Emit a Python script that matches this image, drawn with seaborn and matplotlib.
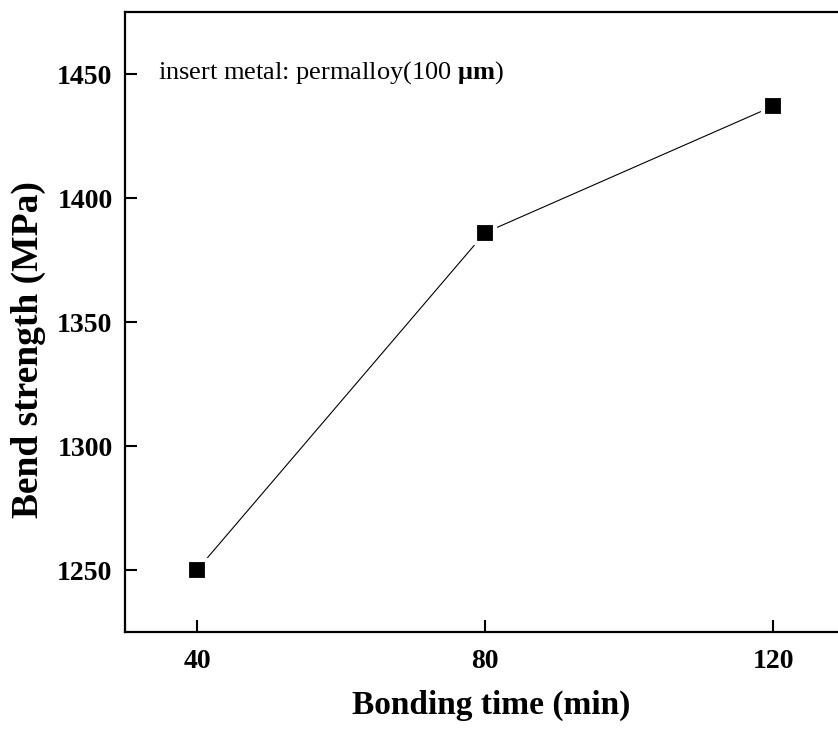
import matplotlib
matplotlib.use("Agg")
import matplotlib.pyplot as plt
import seaborn as sns
import pandas as pd

# Bend strength of joints vs bonding time
bonding_time = [40, 80, 120]
bend_strength = [1250, 1386, 1437]
x_ticks = [40, 80, 120]
y_ticks = [1250, 1300, 1350, 1400, 1450]

sns.set_theme(style="ticks")
plt.rcParams["font.family"] = ["Liberation Serif", "DejaVu Serif"]
plt.rcParams["mathtext.fontset"] = "custom"
plt.rcParams["mathtext.rm"] = "Liberation Serif"
plt.rcParams["mathtext.bf"] = "Liberation Serif:bold"
plt.rcParams["mathtext.it"] = "Liberation Serif:italic"
plt.rcParams["text.color"] = "black"
plt.rcParams["axes.labelcolor"] = "black"

df = pd.DataFrame({"time": bonding_time, "strength": bend_strength})

fig = plt.figure(figsize=(8.38, 7.37), dpi=100)
ax = fig.add_axes([125 / 838, 1 - 632 / 737, 720 / 838, 620 / 737])

sns.lineplot(data=df, x="time", y="strength", ax=ax, color="black",
             linewidth=0.8, marker="s", markersize=14,
             markerfacecolor="black", markeredgecolor="white",
             markeredgewidth=3)

ax.set_xlim(30, 130)
ax.set_ylim(1225, 1475)
ax.set_xticks(x_ticks)
ax.set_yticks(y_ticks)
ax.set_xticklabels([str(v) for v in x_ticks], fontsize=20, fontweight="bold")
ax.set_yticklabels([str(v) for v in y_ticks], fontsize=20, fontweight="bold")
ax.tick_params(direction="in", length=8.6, width=1.5, colors="black")
ax.tick_params(axis="x", pad=12)
ax.tick_params(axis="y", pad=9)

for side in ["left", "bottom", "top", "right"]:
    ax.spines[side].set_linewidth(1.6)
    ax.spines[side].set_color("black")

ax.set_xlabel("Bonding time (min)", fontsize=24, fontweight="bold", color="black")
ax.set_ylabel("Bend strength (MPa)", fontsize=27, fontweight="bold", color="black")
ax.xaxis.label.set(va="center", ha="center")
ax.yaxis.label.set(va="center", ha="center", rotation_mode="default")
ax.xaxis.set_label_coords(0.508, -0.119)
ax.yaxis.set_label_coords(-0.1347, 0.4548)

ax.text(34.6, 1450.5, r"insert metal: permalloy(100 $\mathbf{\mu m}$)",
        fontsize=19, va="center", ha="left", color="black")

fig.savefig("out.png", dpi=100)
